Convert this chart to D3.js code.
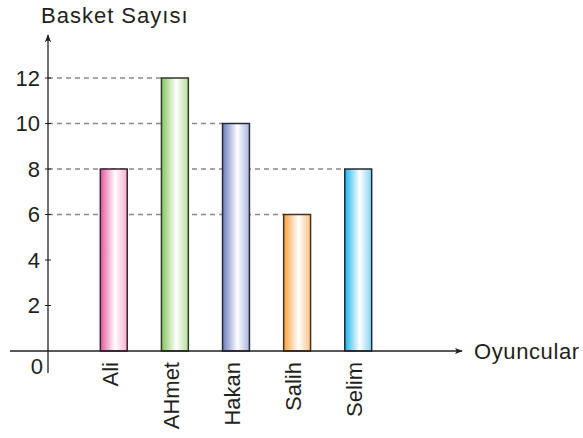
<!DOCTYPE html>
<html>
<head>
<meta charset="utf-8">
<script src="https://cdn.jsdelivr.net/npm/d3@7"></script>
<style>
  body { margin: 0; background: #fff; }
  svg text { font-family: "Liberation Sans", Arial, sans-serif; fill: #231f20; }
</style>
</head>
<body>
<div id="chart"></div>
<script>
var players = ["Ali", "AHmet", "Hakan", "Salih", "Selim"];
var baskets = [8, 12, 10, 6, 8];
var yTicks  = [2, 4, 6, 8, 10, 12];
var colors  = [
  {edge: "#e2579a", light: "#f6aecd", stroke: "#3a2030"},
  {edge: "#86c45a", light: "#b9dd9c", stroke: "#2f3a28"},
  {edge: "#6a7cc0", light: "#aab4dc", stroke: "#262a3a"},
  {edge: "#f6a03e", light: "#fac488", stroke: "#4a3018"},
  {edge: "#1cb4ea", light: "#86d2f2", stroke: "#1f2a33"}
];

var width = 583, height = 438;
var x0 = 48, yBase = 351;

var svg = d3.select("#chart").append("svg")
    .attr("width", width)
    .attr("height", height);

var defs = svg.append("defs");
defs.append("marker")
    .attr("id", "arrow")
    .attr("viewBox", "0 0 10 10")
    .attr("refX", 9).attr("refY", 5)
    .attr("markerWidth", 8).attr("markerHeight", 8)
    .attr("markerUnits", "userSpaceOnUse")
    .attr("orient", "auto")
    .append("path")
    .attr("d", "M0,1 L10,5 L0,9 L2.5,5 Z")
    .attr("fill", "#231f20");

colors.forEach(function (c, i) {
  var g = defs.append("linearGradient")
      .attr("id", "grad" + i)
      .attr("x1", "0%").attr("x2", "100%")
      .attr("y1", "0%").attr("y2", "0%");
  g.append("stop").attr("offset", "0%").attr("stop-color", c.edge);
  g.append("stop").attr("offset", "55%").attr("stop-color", "#ffffff");
  g.append("stop").attr("offset", "100%").attr("stop-color", c.light);
});

var y = d3.scaleLinear().domain([0, 12]).range([yBase, 78]);
var x = d3.scaleBand().domain(players).range([82, 390]).paddingInner(0.56).paddingOuter(0.3);

// dashed guide lines, from axis to the bar that reaches them
var grid = svg.append("g");
baskets.forEach(function (v, i) {
  var already = baskets.slice(i + 1).indexOf(v) >= 0;
  if (already) return;
  grid.append("line")
      .attr("x1", x0).attr("x2", x(players[i]))
      .attr("y1", y(v)).attr("y2", y(v))
      .attr("stroke", "#8a8a8a")
      .attr("stroke-width", 1.3)
      .attr("stroke-dasharray", "5,4");
});

// bars
svg.append("g").selectAll("rect")
    .data(baskets)
    .enter()
    .append("rect")
    .attr("x", function (d, i) { return x(players[i]); })
    .attr("y", function (d) { return y(d); })
    .attr("width", x.bandwidth())
    .attr("height", function (d) { return yBase - y(d); })
    .attr("fill", function (d, i) { return "url(#grad" + i + ")"; })
    .attr("stroke", function (d, i) { return colors[i].stroke; })
    .attr("stroke-width", 1.5);

// axes
svg.append("line")
    .attr("x1", 10).attr("x2", 462)
    .attr("y1", yBase).attr("y2", yBase)
    .attr("stroke", "#231f20").attr("stroke-width", 1.3)
    .attr("marker-end", "url(#arrow)");
svg.append("line")
    .attr("x1", x0).attr("x2", x0)
    .attr("y1", 373).attr("y2", 35)
    .attr("stroke", "#231f20").attr("stroke-width", 1.3)
    .attr("marker-end", "url(#arrow)");

var ticks = svg.append("g");
ticks.selectAll("line")
    .data(yTicks)
    .enter()
    .append("line")
    .attr("x1", x0 - 3).attr("x2", x0 + 3)
    .attr("y1", function (d) { return y(d); })
    .attr("y2", function (d) { return y(d); })
    .attr("stroke", "#231f20");
ticks.selectAll("text")
    .data(yTicks)
    .enter()
    .append("text")
    .attr("x", x0 - 8)
    .attr("y", function (d) { return y(d); })
    .attr("dy", "0.35em")
    .attr("text-anchor", "end")
    .attr("font-size", 22)
    .text(function (d) { return d; });

svg.append("text")
    .attr("x", 43).attr("y", 374)
    .attr("text-anchor", "end")
    .attr("font-size", 22)
    .text("0");

// category labels
svg.append("g").selectAll("text")
    .data(players)
    .enter()
    .append("text")
    .attr("transform", function (d) {
      return "translate(" + (x(d) + x.bandwidth() / 2 + 4) + "," + 362 + ") rotate(-90)";
    })
    .attr("text-anchor", "end")
    .attr("font-size", 22)
    .text(function (d) { return d; });

svg.append("text")
    .attr("x", 41).attr("y", 23)
    .attr("font-size", 22)
    .attr("letter-spacing", 1)
    .text("Basket Sayısı");

svg.append("text")
    .attr("x", 474).attr("y", 351)
    .attr("dy", "0.35em")
    .attr("font-size", 22)
    .attr("letter-spacing", 0.6)
    .text("Oyuncular");
</script>
</body>
</html>
